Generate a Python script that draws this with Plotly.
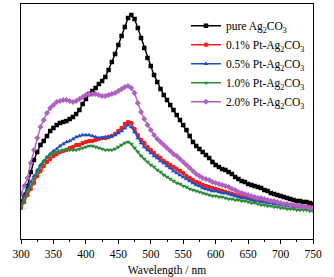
import plotly.graph_objects as go

wavelength = list(range(300, 755, 5))

pure = [37,44,53,67,79,87,94,98,103,108,
        111,114,116,117,118,120,122,125,129,135,
        140,145,148,151,155,158,162,169,177,185,
        194,203,212,221,224,220,211,201,191,181,
        173,164,157,150,144,139,134,129,124,119,
        114,109,103,97,93,90,87,84,81,77,
        74,72,70,69,67,65,62,60,58,57,
        55,54,53,52,51,49,48,46,45,44,
        43,42,41,40,39,38,38,37,37,36,
        35]

pt01 = [31,37,44,50,56,63,68,73,77,80,
        83,85,87,88,89,91,92,94,94,96,
        97,98,98,99,100,101,101,102,103,105,
        108,111,115,117,116,110,104,99,96,92,
        89,86,83,81,78,76,74,72,70,68,
        66,63,61,59,57,56,54,53,52,51,
        50,49,48,47,46,45,44,43,43,42,
        41,40,40,39,38,38,37,37,36,36,
        35,35,34,34,33,33,33,32,32,32,
        31]

pt05 = [35,43,50,57,63,69,74,78,82,85,
        88,90,93,95,97,98,100,102,103,104,
        104,104,103,102,101,101,102,102,103,104,
        106,108,111,114,112,107,101,96,92,89,
        86,83,81,78,76,73,71,68,66,64,
        62,60,58,56,54,53,51,50,49,48,
        48,47,46,46,45,44,43,42,41,41,
        40,39,38,38,37,37,36,36,35,35,
        34,34,33,33,33,32,32,32,31,31,
        31]

pt10 = [32,39,47,53,60,66,72,77,81,84,
        86,87,88,89,89,89,89,89,90,91,
        92,93,93,92,91,90,89,89,89,90,
        92,94,96,97,95,91,87,83,80,77,
        74,72,69,67,64,62,60,58,56,55,
        53,52,50,49,48,47,46,45,44,43,
        43,42,42,41,40,40,39,39,38,38,
        37,36,36,35,34,34,33,33,32,32,
        31,31,30,30,30,29,29,29,29,28,
        28]

pt20 = [45,53,61,76,89,101,112,119,126,131,
        134,137,138,139,139,138,137,138,140,142,
        144,145,145,145,144,143,143,144,145,146,
        148,150,152,153,151,146,136,127,120,114,
        109,104,100,97,94,91,88,85,83,80,
        77,74,71,68,65,63,61,60,59,57,
        56,55,54,53,52,50,49,47,46,45,
        44,43,42,41,41,40,39,38,38,37,
        36,35,35,34,34,33,33,32,32,31,
        31]

series = [
    ("pure Ag<sub>2</sub>CO<sub>3</sub>", pure, "#000000", "square"),
    ("0.1% Pt-Ag<sub>2</sub>CO<sub>3</sub>", pt01, "#ff1a1a", "circle"),
    ("0.5% Pt-Ag<sub>2</sub>CO<sub>3</sub>", pt05, "#2050c0", "triangle-up"),
    ("1.0% Pt-Ag<sub>2</sub>CO<sub>3</sub>", pt10, "#2e8b3a", "triangle-down"),
    ("2.0% Pt-Ag<sub>2</sub>CO<sub>3</sub>", pt20, "#b060c0", "diamond"),
]

x_ticks = list(range(300, 800, 50))

fig = go.Figure()
for name, vals, color, sym in series:
    fig.add_trace(go.Scatter(
        x=wavelength, y=vals, name=name, mode="lines+markers",
        line=dict(color=color, width=1.4),
        marker=dict(symbol=sym, size=4.5, color=color, line=dict(width=0)),
    ))

font_family = "Liberation Serif"
fig.update_layout(
    width=334, height=277,
    margin=dict(l=21, r=21, t=4, b=38, autoexpand=False),
    paper_bgcolor="white", plot_bgcolor="white",
    font=dict(family=font_family, size=11, color="black"),
    showlegend=True,
    legend=dict(x=0.565, y=0.969, xanchor="left", yanchor="top",
                bgcolor="rgba(0,0,0,0)", borderwidth=0,
                font=dict(family=font_family, size=11.5),
                tracegroupgap=0, itemwidth=30),
    xaxis=dict(range=[300, 750], tickvals=x_ticks, showgrid=False, zeroline=False,
               automargin=False,
               showline=True, linecolor="black", linewidth=1, mirror=True,
               ticks="outside", ticklen=4, tickcolor="black", tickwidth=1,
               minor=dict(ticks="outside", ticklen=2, dtick=25, tickcolor="black", showgrid=False),
               tickfont=dict(family=font_family, size=11.5),
               title=dict(text="Wavelength / nm", font=dict(family=font_family, size=11.5))),
    yaxis=dict(range=[0, 235], showticklabels=False, ticks="", showgrid=False, zeroline=False,
               automargin=False,
               showline=True, linecolor="black", linewidth=1, mirror=True),
)

fig.write_html("out.html", config={"displayModeBar": False},
               post_script="document.body.style.margin='0';document.body.style.padding='0';")
